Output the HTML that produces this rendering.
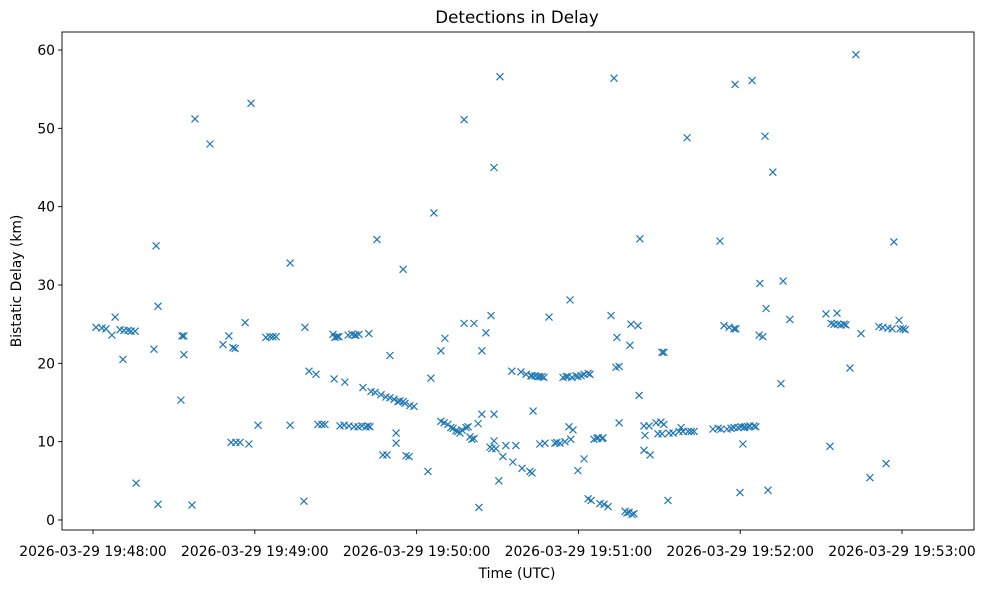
<!DOCTYPE html>
<html><head><meta charset="utf-8"><style>
body{margin:0;background:#fff;}
svg{display:block;font-family:"DejaVu Sans","Liberation Sans",sans-serif;}
</style></head><body>
<svg id="chart" width="984" height="590" xmlns="http://www.w3.org/2000/svg">
<rect x="0" y="0" width="984" height="590" fill="#fff"/>
<text x="517" y="23" text-anchor="middle" font-size="16.7">Detections in Delay</text>
<text x="517" y="578" text-anchor="middle" font-size="13.9">Time (UTC)</text>
<text transform="translate(21,281) rotate(-90)" text-anchor="middle" font-size="13.9">Bistatic Delay (km)</text>
<g id="marks"></g>
<g id="axes"></g>
</svg>
<script>
const xTickSeconds = [0, 60, 120, 180, 240, 300];
const xTickLabels = ["2026-03-29 19:48:00","2026-03-29 19:49:00","2026-03-29 19:50:00","2026-03-29 19:51:00","2026-03-29 19:52:00","2026-03-29 19:53:00"];
const yTicks = [0, 10, 20, 30, 40, 50, 60];
const timeSeconds = [1.1,3.3,4.8,7.0,8.2,10.0,11.1,11.5,13.0,14.1,15.6,16.0,22.6,23.4,24.1,24.1,32.6,33.0,33.7,33.7,36.7,37.8,43.4,48.2,50.4,51.2,51.9,52.7,53.0,54.5,56.4,57.8,58.6,61.2,64.1,65.6,66.7,67.9,73.1,73.1,78.2,78.6,80.1,82.7,83.4,84.9,86.0,89.0,89.4,89.7,90.5,91.2,91.6,93.1,93.4,94.6,94.9,96.0,96.8,97.1,97.5,98.3,98.6,99.7,100.1,101.2,102.0,102.3,102.7,103.1,104.6,105.3,106.8,107.5,108.6,109.0,110.1,110.1,111.6,112.4,112.4,113.1,113.8,115.0,115.0,115.7,116.1,117.2,117.5,119.0,124.2,125.3,126.4,129.0,129.0,130.2,130.5,131.6,132.7,133.5,134.6,135.3,136.1,136.8,137.6,137.6,138.3,139.1,139.8,140.5,141.3,141.3,142.8,143.1,144.2,144.2,145.7,147.2,147.6,147.9,148.7,148.7,148.7,149.4,150.5,150.9,152.0,153.1,155.3,155.7,156.8,158.7,159.1,160.6,162.0,162.4,162.8,162.8,163.2,163.9,165.0,165.7,165.7,166.5,167.2,167.6,169.1,171.3,172.0,173.2,174.3,175.0,175.4,176.1,176.5,176.9,177.2,177.6,178.0,179.1,179.8,179.8,181.0,182.1,182.1,183.6,183.6,184.3,184.7,185.8,186.9,187.3,188.0,188.8,189.1,189.5,191.0,192.1,193.2,193.9,194.3,195.1,195.1,197.3,198.0,198.8,199.1,199.5,199.9,200.6,202.1,202.5,202.8,204.3,204.3,204.7,206.2,206.6,208.8,209.5,210.6,211.0,211.0,211.7,211.7,213.2,213.6,215.1,217.3,218.1,218.8,220.3,220.7,221.8,222.9,229.9,231.8,232.5,232.9,234.0,235.1,235.9,236.6,237.7,237.7,238.1,238.4,239.2,239.9,240.3,241.0,241.4,241.8,242.9,243.6,244.4,245.1,245.8,247.0,247.3,248.4,249.2,249.6,250.3,252.1,255.1,255.9,258.4,271.8,273.3,273.7,274.8,275.9,276.2,277.4,278.5,279.2,280.7,282.9,284.8,288.1,291.4,292.9,294.1,294.8,296.3,297.0,298.9,299.3,300.4,301.2];
const delayKm = [24.6,24.5,24.4,23.6,25.9,24.3,20.5,24.2,24.2,24.1,24.1,4.7,21.8,35.0,2.0,27.3,15.3,23.5,23.5,21.1,1.9,51.2,48.0,22.4,23.5,9.9,22.0,21.9,9.9,9.9,25.2,9.7,53.2,12.1,23.3,23.4,23.4,23.4,12.1,32.8,2.4,24.6,19.0,18.6,12.2,12.2,12.2,23.7,18.0,23.3,23.4,23.4,12.0,12.1,17.6,23.6,12.0,23.7,11.9,23.6,23.6,11.9,23.7,12.0,16.9,11.9,12.0,23.8,11.9,16.4,16.3,35.8,16.0,8.3,15.7,8.3,15.6,21.0,15.4,11.1,9.8,15.1,15.2,15.1,32.0,14.9,8.2,8.1,14.6,14.5,6.2,18.1,39.2,21.6,12.6,12.4,23.2,12.2,11.8,11.7,11.4,11.3,11.1,11.5,51.1,25.1,11.8,11.9,10.6,10.3,10.4,25.1,12.3,1.6,21.6,13.5,23.9,9.3,26.1,9.1,45.0,13.5,10.1,9.1,5.0,56.6,8.1,9.5,19.0,7.4,9.5,18.9,6.6,18.6,6.2,18.4,6.0,18.4,13.9,18.4,18.3,9.7,18.3,18.3,18.2,9.8,25.9,9.8,9.9,9.8,18.2,10.0,18.3,18.3,11.9,28.1,10.3,18.2,11.5,18.4,18.3,6.3,18.4,7.8,18.6,2.7,18.7,18.6,2.5,10.3,10.4,10.5,2.1,10.4,10.5,2.0,1.7,26.1,56.4,19.5,23.3,19.6,12.4,1.1,0.9,1.0,22.3,25.0,0.7,0.8,24.8,15.9,35.9,12.0,8.9,10.8,12.0,8.3,12.4,11.0,12.5,11.0,21.4,21.4,12.2,2.5,11.1,11.1,11.3,11.8,11.3,48.8,11.3,11.3,11.3,11.6,11.7,35.6,11.6,24.8,11.6,24.6,11.7,11.8,24.4,55.6,24.4,11.8,3.5,11.9,9.7,11.8,11.9,11.9,12.0,56.1,12.0,11.9,23.6,30.2,23.4,49.0,27.0,3.8,44.4,17.4,30.5,25.6,26.3,9.4,25.1,25.0,26.4,25.0,24.9,25.0,24.9,19.4,59.4,23.8,5.4,24.7,24.6,7.2,24.5,24.4,35.5,25.5,24.4,24.4,24.3];

const NS = "http://www.w3.org/2000/svg";
const L = 62, R = 974, T = 32, B = 530;
const xMin = -11.5, xMax = 326.7, yMin = -1.28, yMax = 62.3;
function xScale(s){ return L + (s - xMin) / (xMax - xMin) * (R - L); }
function yScale(v){ return B - (v - yMin) / (yMax - yMin) * (B - T); }
function mk(tag, attrs, parent){ const e = document.createElementNS(NS, tag); for (const k in attrs) e.setAttribute(k, attrs[k]); parent.appendChild(e); return e; }

const marks = document.getElementById('marks');
const axes = document.getElementById('axes');
for (let i = 0; i < timeSeconds.length; i++) {
  const cx = xScale(timeSeconds[i]), cy = yScale(delayKm[i]), r = 3.5;
  const p = mk('path', {d:`M${cx-r},${cy-r}L${cx+r},${cy+r}M${cx-r},${cy+r}L${cx+r},${cy-r}`, stroke:'#1f77b4', 'stroke-width':1.2, fill:'none'}, marks);
  
  
}
const frame = mk('rect', {x:L, y:T, width:R-L, height:B-T, fill:'none', stroke:'#000', 'stroke-width':0.9}, axes);


xTickSeconds.forEach((s, i) => {
  const x = xScale(s);
  const t = mk('line', {x1:x, x2:x, y1:B, y2:B+4, stroke:'#000', 'stroke-width':0.9}, axes);
  
  
  const lb = mk('text', {x:x, y:B+26, 'text-anchor':'middle', 'font-size':13.9}, axes);
  lb.textContent = xTickLabels[i];
  
  
});
yTicks.forEach(v => {
  const y = yScale(v);
  const t = mk('line', {x1:L-4, x2:L, y1:y, y2:y, stroke:'#000', 'stroke-width':0.9}, axes);
  
  
  const lb = mk('text', {x:L-7, y:y+5, 'text-anchor':'end', 'font-size':13.9}, axes);
  lb.textContent = String(v);
  
  
});
</script>
</body></html>
